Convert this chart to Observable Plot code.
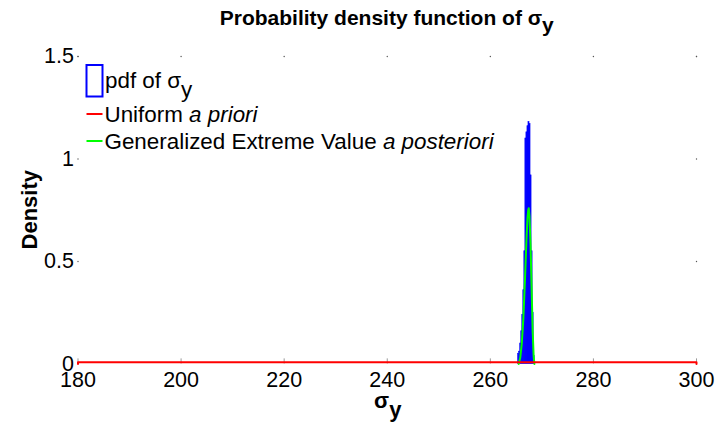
<!DOCTYPE html>
<html><head><meta charset="utf-8">
<script src="https://cdn.jsdelivr.net/npm/d3@7"></script>
<script src="https://cdn.jsdelivr.net/npm/@observablehq/plot@0.6"></script>
<style>
body{margin:0;background:#fff;}
#chart svg{font-family:"Liberation Sans",Arial,sans-serif;}
</style>
</head><body><div id="chart"></div>
<script>
// ---- data ----
const xTicks = [180, 200, 220, 240, 260, 280, 300];
const yTicks = [0, 0.5, 1, 1.5];
const yTickLabels = ["0", "0.5", "1", "1.5"];

// histogram of sigma_y samples (bin edges and densities)
const binLeft  = [265.4, 265.6, 265.8, 266.0, 266.2, 266.4, 266.6, 266.8, 267.0, 267.2, 267.4, 267.6, 267.8, 268.0, 268.2, 268.4];
const binRight = [265.6, 265.8, 266.0, 266.2, 266.4, 266.6, 266.8, 267.0, 267.2, 267.4, 267.6, 267.8, 268.0, 268.2, 268.4, 268.6];
const binDensity = [0.05, 0.06, 0.10, 0.16, 0.24, 0.36, 0.55, 1.10, 1.13, 1.16, 1.18, 1.17, 0.92, 0.55, 0.25, 0.04];

// Generalized Extreme Value a posteriori curve
const gevX = [265.5, 265.8, 266.1, 266.4, 266.7, 267.0, 267.2, 267.35, 267.45, 267.6, 267.8, 268.0, 268.2, 268.4, 268.55];
const gevY = [0.0, 0.03, 0.10, 0.22, 0.40, 0.60, 0.71, 0.75, 0.76, 0.72, 0.58, 0.38, 0.17, 0.04, 0.0];

// Uniform a priori on [180, 300]
const uniformX = [180, 180, 300, 300];
const uniformY = [0, 0.0083, 0.0083, 0];

const bins = binLeft.map((x1, i) => ({x1, x2: binRight[i], y: binDensity[i]}));
const gev = gevX.map((x, i) => ({x, y: gevY[i]}));
const uniform = uniformX.map((x, i) => ({x, y: uniformY[i]}));
const edgeDots = [
  ...xTicks.map(x => ({x, y: yTicks[yTicks.length - 1]})),
  ...yTicks.filter(y => y > 0).map(y => ({x: xTicks[0], y})),
  ...yTicks.filter(y => y > 0).map(y => ({x: xTicks[xTicks.length - 1], y}))
];

const FONT = '"Liberation Sans",Arial,sans-serif';

const plot = Plot.plot({
  width: 727,
  height: 423,
  marginLeft: 77.5,
  marginRight: 31,
  marginTop: 56,
  marginBottom: 59.5,
  style: {fontFamily: FONT, fontSize: "21.5px", color: "#000", background: "#fff"},
  x: {domain: [180, 300], label: null},
  y: {domain: [0, 1.5], label: null},
  marks: [
    Plot.axisX({ticks: xTicks, tickSize: 0, tickPadding: 8, fontSize: 21.5, label: null}),
    Plot.axisY({ticks: yTicks, tickFormat: d => yTickLabels[yTicks.indexOf(d)], tickSize: 0, tickPadding: 4, fontSize: 21.5, label: null}),
    Plot.dot(edgeDots, {x: "x", y: "y", r: 0.7, fill: "#555", stroke: null}),
    Plot.ruleX(xTicks, {y1: 0, y2: 0.025, stroke: "#999", strokeWidth: 1}),
    Plot.rectY(bins, {x1: "x1", x2: "x2", y: "y", fill: "#0000ff", stroke: "#0000ff", strokeWidth: 0.6}),
    Plot.line(gev, {x: "x", y: "y", stroke: "#00ff00", strokeWidth: 2}),
    Plot.line(uniform, {x: "x", y: "y", stroke: "#ff0000", strokeWidth: 2})
  ]
});

document.getElementById("chart").appendChild(plot);

const svg = d3.select(plot);
const xs = plot.scale("x"), ys = plot.scale("y");
const cx = (xs.range[0] + xs.range[1]) / 2;

function subText(g, x, y, main, sub, opts) {
  const t = g.append("text")
    .attr("x", x).attr("y", y)
    .attr("font-family", FONT)
    .attr("font-size", opts.size)
    .attr("font-weight", opts.bold ? "bold" : "normal")
    .attr("text-anchor", opts.anchor || "start")
    .attr("fill", "#000");
  main.forEach(p => t.append("tspan").attr("font-style", p.italic ? "italic" : "normal").text(p.t));
  if (sub) t.append("tspan").attr("dy", opts.subDy).text(sub);
  return t;
}

const g = svg.append("g");
// title
subText(g, cx, 25, [{t: "Probability density function of σ"}], "y", {size: 21, bold: true, anchor: "middle", subDy: 7});
// x label
subText(g, cx + 1, 408, [{t: "σ"}], "y", {size: 22, bold: true, anchor: "middle", subDy: 9});
// y label
g.append("text")
  .attr("transform", `translate(37,${(ys.range[0] + ys.range[1]) / 2}) rotate(-90)`)
  .attr("text-anchor", "middle")
  .attr("font-family", FONT).attr("font-size", 22).attr("font-weight", "bold")
  .text("Density");

// legend
const lg = svg.append("g");
const lx = xs.range[0] + 9;
lg.append("rect").attr("x", lx).attr("y", 65).attr("width", 16).attr("height", 31.5)
  .attr("fill", "#fff").attr("stroke", "#0000ff").attr("stroke-width", 2);
subText(lg, lx + 18.5, 88, [{t: "pdf of σ"}], "y", {size: 22.4, subDy: 9});
lg.append("line").attr("x1", lx).attr("x2", lx + 16).attr("y1", 114).attr("y2", 114).attr("stroke", "#ff0000").attr("stroke-width", 2);
subText(lg, lx + 18, 122, [{t: "Uniform "}, {t: "a priori", italic: true}], null, {size: 22.4});
lg.append("line").attr("x1", lx).attr("x2", lx + 16).attr("y1", 141).attr("y2", 141).attr("stroke", "#00ff00").attr("stroke-width", 2);
subText(lg, lx + 18, 149, [{t: "Generalized Extreme Value "}, {t: "a posteriori", italic: true}], null, {size: 22.4});
</script>
</body></html>
